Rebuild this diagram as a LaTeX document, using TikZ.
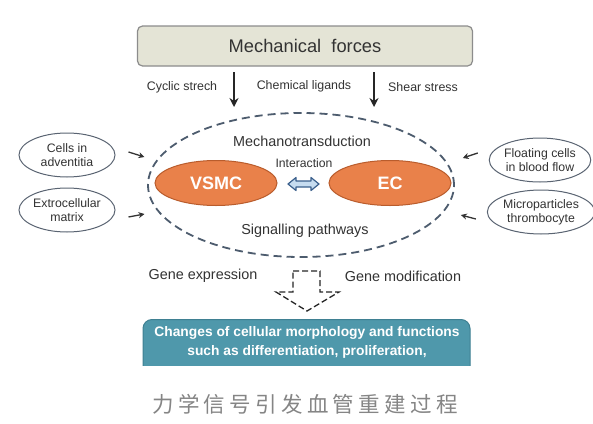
\documentclass[tikz,border=0pt]{standalone}
\usepackage{fontspec}
\setmainfont{Liberation Sans}
\newfontfamily\cjk[LetterSpace=20]{Noto Sans CJK SC}
\usetikzlibrary{shapes.geometric,arrows.meta}
\definecolor{txt}{HTML}{333333}
\definecolor{boxfill}{HTML}{E4E4D6}
\definecolor{boxline}{HTML}{8C8C8C}
\definecolor{orfill}{HTML}{E9814A}
\definecolor{orline}{HTML}{B95C2C}
\definecolor{bluefill}{HTML}{4F98AB}
\definecolor{blueline}{HTML}{3F8092}
\definecolor{dashcol}{HTML}{4D5C6E}
\definecolor{ltblue}{HTML}{C6DCF0}
\definecolor{dkblue}{HTML}{3A5F8C}
\definecolor{sideline}{HTML}{5A6472}
\tikzset{
  lbl/.style={text=txt,inner sep=0pt},
  cell/.style={ellipse,draw=orline,line width=1pt,fill=orfill,minimum width=122pt,minimum height=45pt,text=white,font=\fontsize{18}{20}\selectfont\bfseries},
  side/.style={ellipse,draw=sideline,line width=1pt,minimum width=96pt,minimum height=44pt,text=txt,font=\fontsize{12.3}{13.8}\selectfont,align=center,inner sep=0pt},
  bigarrow/.style={-{Stealth[length=9pt,width=9pt]},line width=1.8pt,black!85},
  smallarrow/.style={-{Stealth[length=6pt,width=6pt]},line width=1.3pt,black!80},
  small/.style={lbl,font=\fontsize{12.4}{14}\selectfont},
  mid/.style={lbl,font=\fontsize{14.4}{16}\selectfont},
}
\begin{document}
\begin{tikzpicture}[x=1pt,y=-1pt]
\useasboundingbox (0,0) rectangle (593,423);
\fill[white] (0,0) rectangle (593,423);
% Mechanical forces box
\node[draw=boxline,line width=1.2pt,fill=boxfill,rounded corners=5pt,minimum width=335pt,minimum height=40pt,text=txt,font=\fontsize{18.3}{20}\selectfont] (mf) at (305,46) {Mechanical\ \ forces};
\coordinate (a1s) at (234,72);
\coordinate (a1e) at (234,107);
\coordinate (a2s) at (374,72);
\coordinate (a2e) at (374,107);
\draw[bigarrow] (a1s) -- (a1e);
\draw[bigarrow] (a2s) -- (a2e);
\node[small] (cs) at (182,87) {Cyclic strech};
\node[small] (cl) at (304,86) {Chemical ligands};
\node[small] (ss) at (423,87) {Shear stress};
% dashed ellipse
\node[ellipse,draw=dashcol,line width=1.8pt,dash pattern=on 8pt off 5pt,minimum width=306pt,minimum height=144pt] (mech) at (301,185) {};
\node[mid] (mt) at (302,141) {Mechanotransduction};
\node[small,font=\fontsize{12.2}{14}\selectfont] (ia) at (304,163) {Interaction};
\node[cell] (vsmc) at (216,183) {VSMC};
\node[cell] (ec) at (390,183) {EC};
\node[mid] (sp) at (305,231) {Signalling pathways};
% double arrow (interaction)
\filldraw[fill=ltblue,draw=dkblue,line width=1.2pt,line join=round]
  (288,184) -- (296,177.5) -- (296,181) -- (311,181) -- (311,177.5) -- (319,184)
  -- (311,190.5) -- (311,187) -- (296,187) -- (296,190.5) -- cycle;
% side ellipses
\node[side] (cia) at (67,155) {Cells in\\adventitia};
\node[side] (exm) at (67,210) {Extrocellular\\matrix};
\node[side,minimum width=100pt] (fc) at (540,160) {Floating cells\\in blood flow};
\node[side,minimum width=100pt] (mp) at (541,212) {Microparticles\\thrombocyte};
\draw[smallarrow] ([xshift=13pt,yshift=3pt]cia.east) -- ++(16,5);
\draw[smallarrow] ([xshift=13pt,yshift=-7pt]exm.east) -- ++(16,-3);
\draw[smallarrow] ([xshift=-11pt,yshift=7pt]fc.west) -- ++(-15,5);
\draw[smallarrow] ([xshift=-11pt,yshift=-7pt]mp.west) -- ++(-15,-4);
% gene labels
\node[mid] (ge) at (203,276) {Gene expression};
\node[mid] (gm) at (403,276) {Gene modification};
% hollow dashed arrow
\draw[black!85,line width=1.3pt,dash pattern=on 6pt off 3pt,line join=miter] (293,271) -- (320,271) -- (320,292) -- (339,292) -- (307,311) -- (276,292) -- (293,292) -- cycle;
% blue box
\begin{scope}
\clip (0,0) rectangle (593,365);
\node[draw=blueline,line width=1pt,fill=bluefill,rounded corners=9pt,minimum width=327pt,minimum height=80pt,anchor=north] (chg) at (306.5,319) {};
\end{scope}
\node[text=white,font=\fontsize{13.8}{19}\selectfont\bfseries,align=center,anchor=north,inner sep=0pt] (chgt) at (307,326) {Changes of cellular morphology and functions\\such as differentiation, proliferation,};
% caption
\node[text=black!48,font=\cjk\fontsize{21.5}{24}\selectfont,inner sep=0pt] (cap) at (305,404) {力学信号引发血管重建过程};
\end{tikzpicture}
\end{document}
